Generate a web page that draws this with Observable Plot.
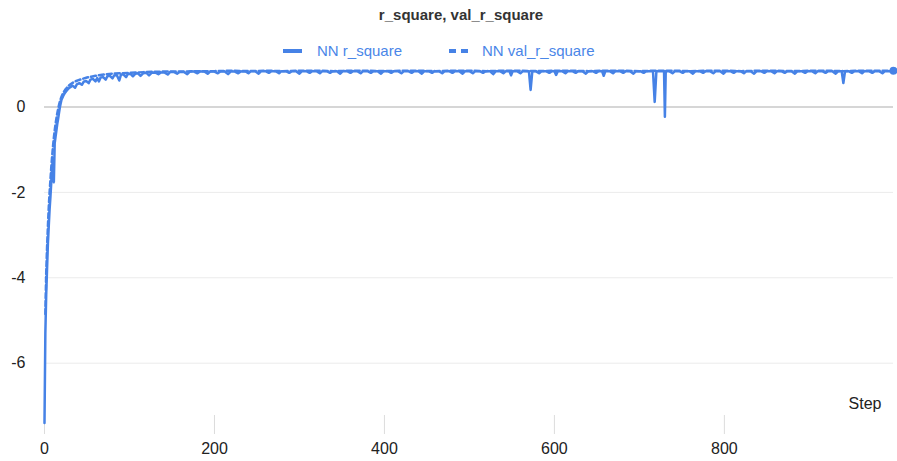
<!DOCTYPE html>
<html>
<head>
<meta charset="utf-8">
<script src="https://cdn.jsdelivr.net/npm/d3@7"></script>
<script src="https://cdn.jsdelivr.net/npm/@observablehq/plot@0.6"></script>
<style>
  html, body { margin: 0; padding: 0; background: #fff; }
  #wrap { position: relative; width: 897px; height: 461px; overflow: hidden; }
  #title { position: absolute; left: 0; width: 922px; top: 6px; text-align: center; font: bold 15px "Liberation Sans", Arial, sans-serif; color: #333; }
  .lg { position: absolute; top: 42px; font: 15px "Liberation Sans", Arial, sans-serif; color: #4a86e8; line-height: 18px; }
  .sw { position: absolute; height: 4px; background: #4682e6; top: 49px; }
  #chart { position: absolute; left: 0; top: 60px; }
</style>
</head>
<body>
<div id="wrap">
  <div id="title">r_square, val_r_square</div>
  <div class="sw" style="left:283px;width:19px"></div>
  <div class="lg" style="left:317px">NN r_square</div>
  <div class="sw" style="left:449px;width:7px"></div>
  <div class="sw" style="left:461px;width:7px"></div>
  <div class="lg" style="left:482px">NN val_r_square</div>
  <div id="chart"></div>
</div>
<script>
const lineColor = "#4682e6";
const seriesNames = ["NN r_square", "NN val_r_square"];
const xTicks = [0, 200, 400, 600, 800];
const yTicks = [0, -2, -4, -6];

// NN r_square (solid) — rising phase
const trainStepsEarly = [0,1,2,3,4,5,6,7,8,9,10,11,12,13,14,15,16,17,18,19,20,22,24,26,28,30,33,36,38,41,44,46,49,52,54,57,60,62,64,66,69,72,74,77,80,82,85,88,90,93,96,98,101,104,107,110,113,116];
const trainValuesEarly = [-7.4,-5.3,-4.4,-3.8,-3.2,-2.8,-2.4,-2.1,-1.75,-1.45,-1.2,-1.76,-0.85,-0.7,-0.55,-0.4,-0.28,-0.15,-0.02,0.08,0.17,0.26,0.33,0.38,0.43,0.46,0.5,0.45,0.53,0.56,0.52,0.59,0.61,0.56,0.64,0.66,0.6,0.68,0.6,0.69,0.7,0.64,0.72,0.73,0.67,0.74,0.75,0.62,0.76,0.76,0.7,0.77,0.78,0.72,0.78,0.79,0.73,0.79];
// NN r_square (solid) — plateau with notches
const trainStepsLate = [120,123,126,130,134,137,141,145,148,152,156,159,164,168,171,176,180,183,188,192,195,200,204,207,212,216,219,224,228,231,236,240,243,248,252,255,260,264,267,272,276,279,284,288,291,296,300,303,308,312,315,320,324,327,332,336,339,344,348,351,356,360,363,368,372,375,380,384,387,392,396,399,404,408,411,416,420,423,428,432,435,440,444,447,452,456,459,464,468,471,476,480,483,488,492,495,500,504,507,512,516,519,524,528,531,536,540,543,547,549,551,556,560,563,568,570,572,574,578,582,585,590,594,597,600,602,604,609,613,616,621,625,628,633,637,640,645,649,652,656,658,660,665,669,672,677,681,684,689,693,696,701,705,708,714,716,718,720,724,726,729,730,731,735,739,742,747,751,754,759,763,766,771,775,778,783,787,790,795,799,802,807,811,814,819,823,826,831,835,838,843,847,850,855,859,862,867,871,874,879,883,886,891,895,898,903,907,910,915,919,922,927,931,934,938,940,942,946,950,953,958,962,965,970,974,977,982,986,989,994,997,999];
const trainValuesLate = [0.8,0.74,0.8,0.81,0.77,0.81,0.81,0.76,0.82,0.82,0.78,0.82,0.82,0.77,0.83,0.83,0.79,0.83,0.83,0.78,0.83,0.83,0.79,0.83,0.83,0.77,0.83,0.83,0.79,0.83,0.84,0.79,0.84,0.84,0.78,0.84,0.84,0.8,0.84,0.84,0.79,0.84,0.84,0.8,0.84,0.84,0.78,0.84,0.84,0.8,0.84,0.84,0.79,0.84,0.84,0.8,0.84,0.84,0.78,0.84,0.84,0.8,0.84,0.84,0.79,0.84,0.84,0.8,0.84,0.84,0.78,0.84,0.84,0.8,0.84,0.84,0.79,0.84,0.84,0.8,0.84,0.84,0.78,0.84,0.84,0.8,0.84,0.84,0.79,0.84,0.84,0.8,0.84,0.84,0.78,0.84,0.84,0.79,0.84,0.84,0.8,0.84,0.84,0.77,0.84,0.84,0.79,0.84,0.84,0.74,0.84,0.84,0.79,0.84,0.84,0.84,0.4,0.84,0.84,0.79,0.84,0.84,0.8,0.84,0.84,0.75,0.84,0.84,0.79,0.84,0.84,0.8,0.84,0.84,0.78,0.84,0.84,0.8,0.84,0.84,0.73,0.84,0.84,0.79,0.84,0.84,0.8,0.84,0.84,0.78,0.84,0.84,0.8,0.84,0.84,0.84,0.12,0.84,0.84,0.84,0.84,-0.23,0.84,0.84,0.79,0.84,0.84,0.8,0.84,0.84,0.78,0.84,0.84,0.8,0.84,0.84,0.79,0.84,0.84,0.78,0.84,0.84,0.8,0.84,0.84,0.79,0.84,0.84,0.78,0.84,0.84,0.8,0.84,0.84,0.79,0.84,0.84,0.8,0.84,0.84,0.78,0.84,0.84,0.8,0.84,0.84,0.79,0.84,0.84,0.8,0.84,0.84,0.78,0.84,0.84,0.56,0.84,0.84,0.8,0.84,0.84,0.79,0.84,0.84,0.8,0.84,0.84,0.79,0.84,0.84,0.82,0.85];

// NN val_r_square (dashed)
const valSteps = [1,2,3,4,5,6,7,8,9,10,11,12,13,14,15,16,17,18,20,22,25,28,31,35,40,45,50,55,60,70,80,90,100,110,120,140,160,180,200,220,240,260,280,300,320,340,360,380,400,420,440,460,480,500,520,540,560,580,600,620,640,660,680,700,720,740,760,780,800,820,840,860,880,900,920,940,960,980,999];
const valValues = [-4.85,-3.9,-3.3,-2.8,-2.35,-2.0,-1.7,-1.4,-1.15,-0.92,-0.72,-0.55,-0.4,-0.27,-0.15,-0.05,0.04,0.12,0.24,0.33,0.42,0.49,0.54,0.59,0.63,0.66,0.69,0.71,0.73,0.76,0.78,0.79,0.8,0.81,0.82,0.83,0.83,0.84,0.84,0.85,0.84,0.85,0.84,0.85,0.85,0.84,0.85,0.85,0.84,0.85,0.85,0.84,0.85,0.85,0.84,0.85,0.85,0.84,0.85,0.85,0.84,0.85,0.85,0.84,0.85,0.85,0.84,0.85,0.85,0.84,0.85,0.85,0.84,0.85,0.85,0.84,0.85,0.85,0.85];

const trainSteps = trainStepsEarly.concat(trainStepsLate);
const trainValues = trainValuesEarly.concat(trainValuesLate);
const train = trainSteps.map((s, i) => ({step: s, value: trainValues[i], series: seriesNames[0]}));
const val = valSteps.map((s, i) => ({step: s, value: valValues[i], series: seriesNames[1]}));
const last = [train[train.length - 1]];

const chart = Plot.plot({
  width: 897,
  height: 401,
  marginLeft: 44,
  marginRight: 4,
  marginTop: 3.8,
  marginBottom: 27,
  style: {fontFamily: "'Liberation Sans', Arial, sans-serif", fontSize: "16px", color: "#222", background: "#fff"},
  x: {domain: [0, 999]},
  y: {domain: [-7.67, 1.0]},
  marks: [
    Plot.ruleY(yTicks.filter(d => d !== 0), {stroke: "#ebebeb", strokeWidth: 1}),
    Plot.ruleY([0], {stroke: "#d6d6d6", strokeWidth: 2}),
    Plot.axisY({ticks: yTicks, tickSize: 0, tickPadding: 19, label: null, fontSize: 16, fill: "#222", tickFormat: d => d === 0 ? "0" : "-" + Math.abs(d)}),
    Plot.axisX({ticks: xTicks, tickSize: -19, tickPadding: 27, stroke: "#dcdcdc", label: null, fontSize: 16, fill: "#222"}),
    Plot.line(val, {x: "step", y: "value", stroke: lineColor, strokeWidth: 2.5, strokeDasharray: "5,3"}),
    Plot.line(train, {x: "step", y: "value", stroke: lineColor, strokeWidth: 2.5}),
    Plot.dot(last, {x: "step", y: "value", r: 4, fill: lineColor}),
    Plot.text(["Step"], {frameAnchor: "bottom-right", dx: -12, dy: -26, textAnchor: "end", fontSize: 16, fill: "#222"})
  ]
});
document.getElementById("chart").appendChild(chart);
</script>
</body>
</html>
